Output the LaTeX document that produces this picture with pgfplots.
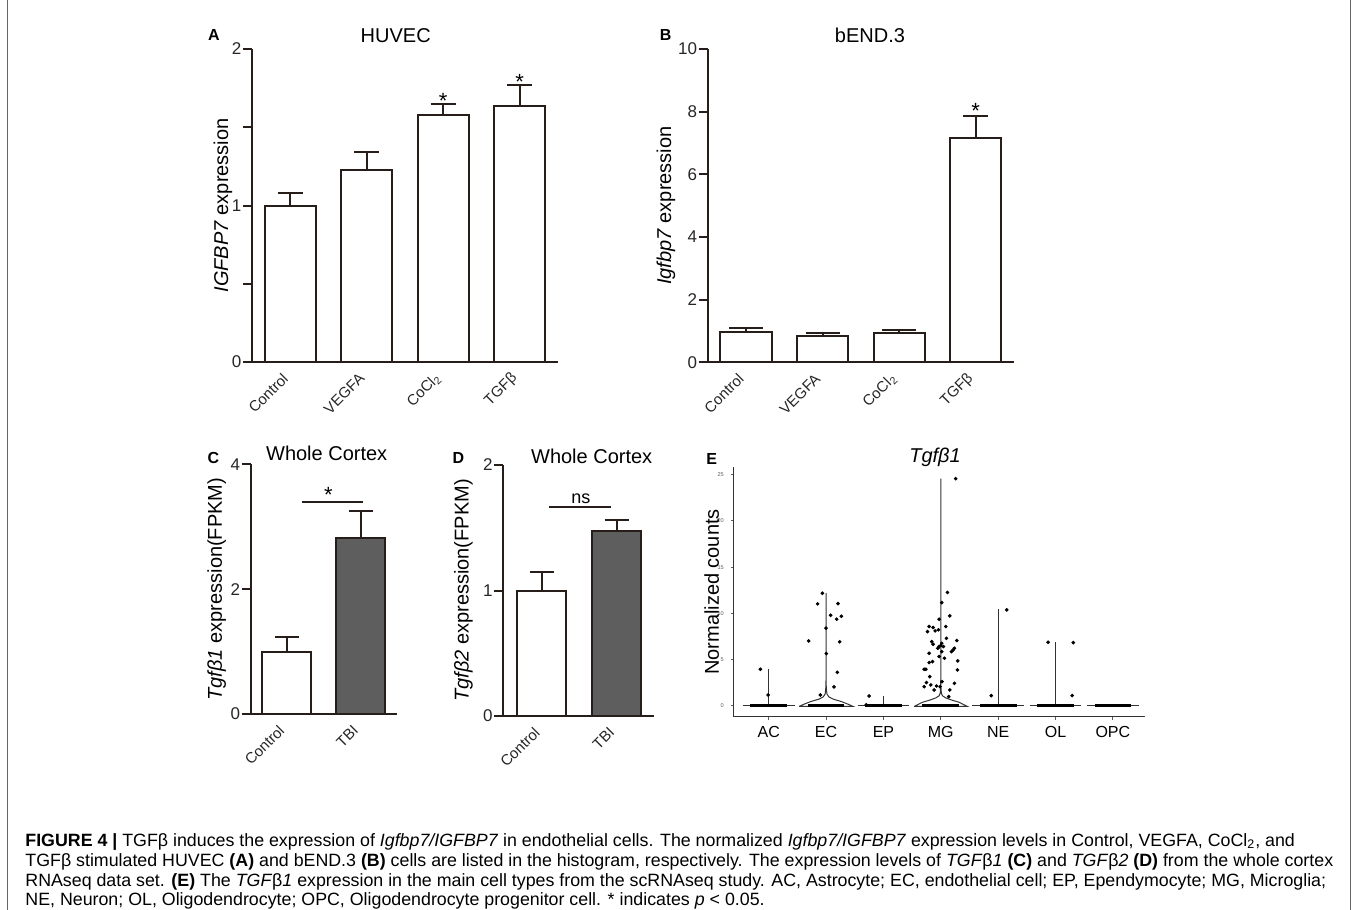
\documentclass[border=0pt]{standalone}
\usepackage{pgfplots}
\pgfplotsset{compat=1.18}
\usepackage{fontspec}
\setmainfont{Liberation Sans}
\newcommand\fs[1]{\fontsize{#1pt}{#1pt}\selectfont}
\definecolor{axc}{RGB}{40,30,25}
\definecolor{tbi}{RGB}{94,94,94}
\definecolor{eax}{RGB}{50,50,50}
\definecolor{etk}{RGB}{95,95,95}

\tikzset{sigstar/.style={font=\fs{11}, inner sep=0pt, anchor=center, yshift=-2.4pt}}
\pgfplotsset{
  barpanel/.style={
    scale only axis, anchor=south west, clip=false,
    axis x line=bottom, axis y line=left,
    axis line style={-, line width=1pt, draw=axc},
    x axis line style={shorten <=-4.5pt},
    tick align=outside, major tick length=4.5pt,
    ytick style={line width=1pt, draw=axc},
    xtick style={draw=none},
    ymin=0,
    tick label style={font=\fs{8.5}, text=black!85},
    yticklabel style={inner xsep=0.6pt},
    xticklabel style={rotate=45, anchor=east, font=\fs{7.5}},
    /pgf/number format/assume math mode=true,
    ylabel style={font=\fs{10}, anchor=center},
  },
  % fill, half cap width, bar width
  bar/.style n args={3}{ybar, bar shift=0pt, bar width=#3, draw=axc, line width=1pt, fill=#1,
    error bars/.cd, y dir=plus, y explicit,
    error bar style={line width=1pt, draw=axc},
    error mark options={rotate=90, mark size=#2, line width=1pt, draw=axc}},
  violin/.style={draw=eax, line width=0.5pt},
  band/.style={black, line width=1.5pt},
}

\begin{document}
\begin{tikzpicture}
\useasboundingbox (0,0) rectangle (678.5pt,-455pt);

% A: HUVEC
\begin{axis}[barpanel, at={(126pt,-181pt)}, width=153pt, height=156.5pt,
  xmin=-0.5, xmax=3.5, ymax=2,
  xtick={0,1,2,3}, xticklabels={Control,VEGFA,CoCl\textsubscript{2},TGFβ},
  ytick={0,0.5,1,1.5,2}, yticklabels={0,,1,,2},
  ylabel={\textit{IGFBP7} expression},
  ylabel style={at={(axis description cs:-0.0948,0.5)}}]
\addplot[bar={white}{6.25pt}{25.5pt}]
  coordinates {(0,1.0) +- (0,0.08) (1,1.226) +- (0,0.119) (2,1.578) +- (0,0.068) (3,1.638) +- (0,0.134)};
\node[sigstar] at (axis cs:2,1.70) {*};
\node[sigstar] at (axis cs:3,1.82) {*};
\end{axis}

% B: bEND.3
\begin{axis}[barpanel, at={(353.85pt,-181.15pt)}, width=153.15pt, height=156.65pt,
  xmin=-0.5, xmax=3.5, ymax=10,
  xtick={0,1,2,3}, xticklabels={Control,VEGFA,CoCl\textsubscript{2},TGFβ},
  ytick={0,2,4,6,8,10},
  ylabel={\textit{Igfbp7} expression},
  ylabel style={at={(axis description cs:-0.136,0.5)}}]
\addplot[bar={white}{8.5pt}{25.6pt}]
  coordinates {(0,0.98) +- (0,0.12) (1,0.84) +- (0,0.10) (2,0.95) +- (0,0.09)};
\addplot[bar={white}{6.25pt}{25.6pt}]
  coordinates {(3,7.16) +- (0,0.71)};
\node[sigstar] at (axis cs:3,8.18) {*};
\end{axis}

% C: Tgfb1 whole cortex
\begin{axis}[barpanel, at={(125.35pt,-357pt)}, width=73.15pt, height=124.85pt,
  xmin=-0.484, xmax=1.493, ymax=4,
  xtick={0,1}, xticklabels={Control,TBI},
  ytick={0,2,4},
  ylabel={\textit{Tgfβ1} expression(FPKM)},
  ylabel style={at={(axis description cs:-0.232,0.5)}}]
\addplot[bar={white}{6pt}{24.5pt}] coordinates {(0,1.0) +- (0,0.24)};
\addplot[bar={tbi}{6pt}{24.5pt}] coordinates {(1,2.825) +- (0,0.435)};
\addplot[axc, line width=1pt] coordinates {(0.205,3.4) (1.04,3.4)};
\node[sigstar] at (axis cs:0.565,3.58) {*};
\end{axis}

% D: Tgfb2 whole cortex
\begin{axis}[barpanel, at={(251.65pt,-358pt)}, width=75.35pt, height=125.5pt,
  xmin=-0.518, xmax=1.5, ymax=2,
  xtick={0,1}, xticklabels={Control,TBI},
  ytick={0,1,2},
  ylabel={\textit{Tgfβ2} expression(FPKM)},
  ylabel style={at={(axis description cs:-0.265,0.5)}}]
\addplot[bar={white}{6pt}{24.5pt}] coordinates {(0,1.0) +- (0,0.151)};
\addplot[bar={tbi}{6pt}{24.5pt}] coordinates {(1,1.477) +- (0,0.082)};
\addplot[axc, line width=1pt] coordinates {(0.094,1.668) (0.92,1.668)};
\node[font=\fs{9}, inner sep=0pt] at (axis cs:0.52,1.735) {ns};
\end{axis}

% E: violin plot
\begin{axis}[scale only axis, anchor=south west, clip=false,
  at={(366.85pt,-358.35pt)}, width=205.65pt, height=124.7pt,
  xmin=0.39, xmax=7.56, ymin=-1.16, ymax=25.8,
  axis x line=bottom, axis y line=left,
  axis line style={-, line width=0.7pt, draw=eax},
  tick align=outside, major tick length=1.4pt,
  tick style={line width=0.5pt, draw=etk},
  xtick={1,...,7}, xticklabels={AC,EC,EP,MG,NE,OL,OPC},
  xticklabel style={font=\fs{8}},
  ytick={0,5,10,15,20,25},
  yticklabel style={font=\fs{2.8}, text=etk},
  /pgf/number format/assume math mode=true,
  ylabel={Normalized counts},
  ylabel style={font=\fs{10}, at={(axis description cs:-0.0535,0.5)}, anchor=center}]
% violin outlines
\addplot[violin] coordinates {(0.55,0) (1.45,0)};
\addplot[violin] coordinates {(1,0) (1,3.97)};
\addplot[violin] coordinates {(1.53,-0.05) (1.60,0.15) (1.73,0.47) (1.88,0.75) (1.95,0.98) (1.985,1.3) (1.996,2) (2,3) (2,12.19)
  (2,3) (2.004,2) (2.015,1.3) (2.05,0.98) (2.12,0.75) (2.27,0.47) (2.40,0.15) (2.47,-0.05) (1.53,-0.05)};
\addplot[violin] coordinates {(2.55,0) (3.45,0)};
\addplot[violin] coordinates {(3,0) (3,1.08)};
\addplot[violin] coordinates {(3.535,-0.05) (3.60,0.15) (3.68,0.4) (3.80,0.62) (3.913,0.87) (3.97,1.1) (3.99,1.37) (3.997,2) (4,3) (4,24.57)
  (4,3) (4.003,2) (4.01,1.37) (4.03,1.1) (4.087,0.87) (4.20,0.62) (4.32,0.4) (4.40,0.15) (4.465,-0.05) (3.535,-0.05)};
\addplot[violin] coordinates {(4.55,0) (5.45,0)};
\addplot[violin] coordinates {(5,0) (5,10.46)};
\addplot[violin] coordinates {(5.55,0) (6.45,0)};
\addplot[violin] coordinates {(6,0) (6,6.89)};
\addplot[violin] coordinates {(6.55,0) (7.45,0)};
% cells at zero
\addplot[band] coordinates {(0.68,0) (1.32,0)};
\addplot[band] coordinates {(1.68,0) (2.32,0)};
\addplot[band] coordinates {(2.68,0) (3.32,0)};
\addplot[band] coordinates {(3.68,0) (4.32,0)};
\addplot[band] coordinates {(4.68,0) (5.32,0)};
\addplot[band] coordinates {(5.68,0) (6.32,0)};
\addplot[band] coordinates {(6.68,0) (7.32,0)};
% expressing cells
\addplot[only marks, mark=*, mark size=0.7pt, black] coordinates {
  (0.855,3.97) (0.99,1.19)
  (1.935,12.19) (1.853,11.04) (2.208,11.07) (2.08,9.81) (2.185,9.38) (2.266,9.70) (1.999,8.41)
  (1.697,7.03) (2.237,6.93) (2.005,5.66) (2.196,3.64) (2.138,2.06) (1.90,1.19)
  (2.75,1.08) (2.70,0.12)
  (4.26,24.57) (4.116,12.27) (4.017,11.18) (4.157,9.74) (3.971,9.38) (3.797,8.59) (3.866,8.48)
  (3.768,8.04) (3.901,8.12) (3.959,8.23) (4.087,8.59) (4.099,7.32) (4.279,7.07) (3.843,6.96)
  (3.866,6.67) (4.017,6.78) (4.0,6.53) (3.971,6.42) (4.046,6.42) (3.948,6.24) (4.238,6.24)
  (4.215,6.06) (4.186,5.88) (4.017,5.88) (3.797,5.70) (3.971,5.34) (4.064,5.16) (4.296,4.87)
  (3.855,4.80) (3.797,4.69) (3.739,3.97) (3.71,3.97) (4.29,3.90) (3.808,3.17) (4.023,2.63)
  (4.238,2.45) (3.75,2.53) (3.826,2.27) (3.71,2.09) (3.925,2.16) (3.988,2.09) (3.884,1.73)
  (4.157,1.73) (4.139,1.01)
  (4.88,1.12) (5.15,10.39)
  (5.87,6.89) (6.31,6.85) (6.29,1.12)
};
\end{axis}

\begin{scope}[x=0.5pt,y=-0.5pt]
% panel letters and titles
\node[font=\bfseries\fs{8}, anchor=base, inner sep=0pt] at (214,40.7) {A};
\node[font=\bfseries\fs{8}, anchor=base, inner sep=0pt] at (665.7,40.7) {B};
\node[font=\bfseries\fs{8}, anchor=base, inner sep=0pt] at (213.3,463.3) {C};
\node[font=\bfseries\fs{8}, anchor=base, inner sep=0pt] at (458.3,463.3) {D};
\node[font=\bfseries\fs{8}, anchor=base, inner sep=0pt] at (711.7,464) {E};
\node[font=\fs{10}, anchor=base, inner sep=0pt] at (395.7,42.7) {HUVEC};
\node[font=\fs{10}, anchor=base, inner sep=0pt] at (870,42.7) {bEND.3};
\node[font=\fs{10}, anchor=base, inner sep=0pt] at (326.7,460.7) {Whole Cortex};
\node[font=\fs{10}, anchor=base, inner sep=0pt] at (591.7,463.3) {Whole Cortex};
\node[font=\itshape\fs{10}, anchor=base, inner sep=0pt] at (935,462.7) {Tgfβ1};
% frame and caption
\draw[black!60, line width=0.5pt] (7,0) -- (7,910) (1350,0) -- (1350,910);
\begin{scope}[every node/.style={anchor=base west, inner sep=0pt, font=\fs{8.9}}]
\node at (25,846) {\textbf{FIGURE 4 |} TGFβ induces the expression of \textit{Igfbp7/IGFBP7} in endothelial cells. The normalized \textit{Igfbp7/IGFBP7} expression levels in Control, VEGFA, CoCl\textsubscript{2}, and};
\node at (25,866) {TGFβ stimulated HUVEC \textbf{(A)} and bEND.3 \textbf{(B)} cells are listed in the histogram, respectively. The expression levels of \textit{TGF}β\textit{1} \textbf{(C)} and \textit{TGF}β\textit{2} \textbf{(D)} from the whole cortex};
\node at (25,886) {RNAseq data set. \textbf{(E)} The \textit{TGF}β\textit{1} expression in the main cell types from the scRNAseq study. AC, Astrocyte; EC, endothelial cell; EP, Ependymocyte; MG, Microglia;};
\node at (25,905.5) {NE, Neuron; OL, Oligodendrocyte; OPC, Oligodendrocyte progenitor cell. * indicates \textit{p} < 0.05.};
\end{scope}
\end{scope}
\end{tikzpicture}
\end{document}
